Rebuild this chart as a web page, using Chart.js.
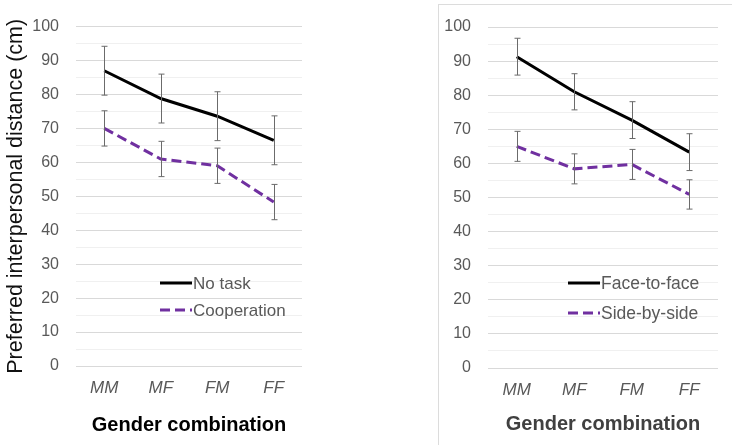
<!DOCTYPE html>
<html><head><meta charset="utf-8">
<script src="https://cdn.jsdelivr.net/npm/chart.js@4.4.0/dist/chart.umd.min.js"></script>
<style>
html,body{margin:0;padding:0;background:#fff;width:732px;height:445px;overflow:hidden;}
#c1{position:absolute;left:0;top:0;}
#c2{position:absolute;left:370px;top:0;}
#box{position:absolute;left:438px;top:4px;width:400px;height:500px;border:1px solid #dcdcdc;}
</style></head><body>
<div id="box"></div>
<canvas id="c1" width="370" height="445"></canvas>
<canvas id="c2" width="362" height="445"></canvas>
<script>
// ---- data ----
const categories = ['MM', 'MF', 'FM', 'FF'];
const yMajorTicks = [0, 10, 20, 30, 40, 50, 60, 70, 80, 90, 100];

const noTask = [87, 78.8, 73.6, 66.5];
const noTaskErr = [7.2, 7.2, 7.2, 7.2];
const cooperation = [70, 61, 59, 48.3];
const cooperationErr = [5.2, 5.2, 5.2, 5.2];

const faceToFace = [91.3, 81, 72.7, 63.3];
const faceToFaceErr = [5.4, 5.3, 5.4, 5.4];
const sideBySide = [65, 58.4, 59.7, 50.9];
const sideBySideErr = [4.4, 4.4, 4.4, 4.3];

const FONT = '"Liberation Sans", Arial, sans-serif';
Chart.defaults.font.family = FONT;
Chart.defaults.devicePixelRatio = 1;

const errBarsPlugin = {
  id: 'errbars',
  afterDatasetsDraw(chart) {
    const ctx = chart.ctx, y = chart.scales.y, x = chart.scales.x;
    ctx.save();
    ctx.strokeStyle = '#6b6b6b';
    ctx.lineWidth = 1;
    chart.data.datasets.forEach(ds => {
      ds.data.forEach((v, i) => {
        const e = ds.errors[i];
        const px = Math.round(x.getPixelForValue(i)) + 0.5;
        const t = y.getPixelForValue(v + e), b = y.getPixelForValue(v - e);
        ctx.beginPath();
        ctx.moveTo(px, t); ctx.lineTo(px, b);
        ctx.moveTo(px - 3, t); ctx.lineTo(px + 3, t);
        ctx.moveTo(px - 3, b); ctx.lineTo(px + 3, b);
        ctx.stroke();
      });
    });
    ctx.restore();
  }
};

const inLegendPlugin = {
  id: 'inlegend',
  afterDraw(chart, args, opts) {
    const ctx = chart.ctx;
    ctx.save();
    ctx.font = opts.fontSize + 'px ' + FONT;
    ctx.textBaseline = 'middle';
    ctx.fillStyle = '#595959';
    chart.data.datasets.forEach((ds, i) => {
      const yy = opts.y + i * opts.dy;
      ctx.beginPath();
      ctx.strokeStyle = ds.borderColor;
      ctx.lineWidth = 3;
      ctx.setLineDash(ds.borderDash || []);
      ctx.moveTo(opts.x, yy); ctx.lineTo(opts.x + opts.len, yy);
      ctx.stroke();
      ctx.setLineDash([]);
      ctx.fillText(ds.label, opts.x + opts.len + 1, yy + 1);
    });
    ctx.restore();
  }
};

function makeChart(id, s1, s1e, l1, s2, s2e, l2, cfg) {
  return new Chart(document.getElementById(id), {
    type: 'line',
    data: {
      labels: categories,
      datasets: [
        { label: l1, data: s1, errors: s1e, borderColor: '#000000', borderWidth: 3, pointRadius: 0, tension: 0, fill: false },
        { label: l2, data: s2, errors: s2e, borderColor: '#7030A0', borderWidth: 3, borderDash: [10, 5], pointRadius: 0, tension: 0, fill: false }
      ]
    },
    options: {
      responsive: false,
      animation: false,
      devicePixelRatio: 1,
      layout: { padding: cfg.padding },
      plugins: {
        legend: { display: false },
        tooltip: { enabled: false },
        inlegend: cfg.legend
      },
      scales: {
        x: {
          offset: true,
          grid: { display: false, drawTicks: false },
          border: { display: false },
          ticks: { color: '#595959', padding: 12, font: { size: 17, style: 'italic' } },
          title: { display: true, text: 'Gender combination', color: cfg.xTitleColor,
                   font: { size: 20, weight: 'bold' }, padding: { top: 0, bottom: cfg.xTitlePad } },
          afterFit(s) { s.height = cfg.xHeight; }
        },
        y: {
          min: 0, max: 100,
          grid: { drawTicks: false, color: c => (c.tick && c.tick.value % 10 === 0) ? '#d9d9d9' : '#f0f0f0', lineWidth: 1 },
          border: { display: false },
          ticks: { stepSize: 5, autoSkip: false, padding: 17, color: '#595959', font: { size: 16 },
                   callback: v => yMajorTicks.includes(v) ? String(v) : '' },
          title: cfg.yTitle,
          afterFit(s) { s.width = cfg.yWidth; }
        }
      }
    },
    plugins: [errBarsPlugin, inLegendPlugin]
  });
}

makeChart('c1', noTask, noTaskErr, 'No task', cooperation, cooperationErr, 'Cooperation', {
  padding: { left: 0, top: 24, right: 68, bottom: 0 },
  xHeight: 79, xTitlePad: 8, xTitleColor: '#000000', yWidth: 76,
  yTitle: { display: true, text: 'Preferred interpersonal distance (cm)', color: '#111111',
            font: { size: 21.5 }, padding: { top: 3, bottom: 0 } },
  legend: { x: 160, y: 283, dy: 27, len: 32, fontSize: 17 }
});

makeChart('c2', faceToFace, faceToFaceErr, 'Face-to-face', sideBySide, sideBySideErr, 'Side-by-side', {
  padding: { left: 0, top: 27, right: 14, bottom: 0 },
  xHeight: 77, xTitlePad: 9, xTitleColor: '#404040', yWidth: 118,
  yTitle: { display: false },
  legend: { x: 198, y: 283, dy: 30, len: 32, fontSize: 17.5 }
});
</script>
</body></html>
